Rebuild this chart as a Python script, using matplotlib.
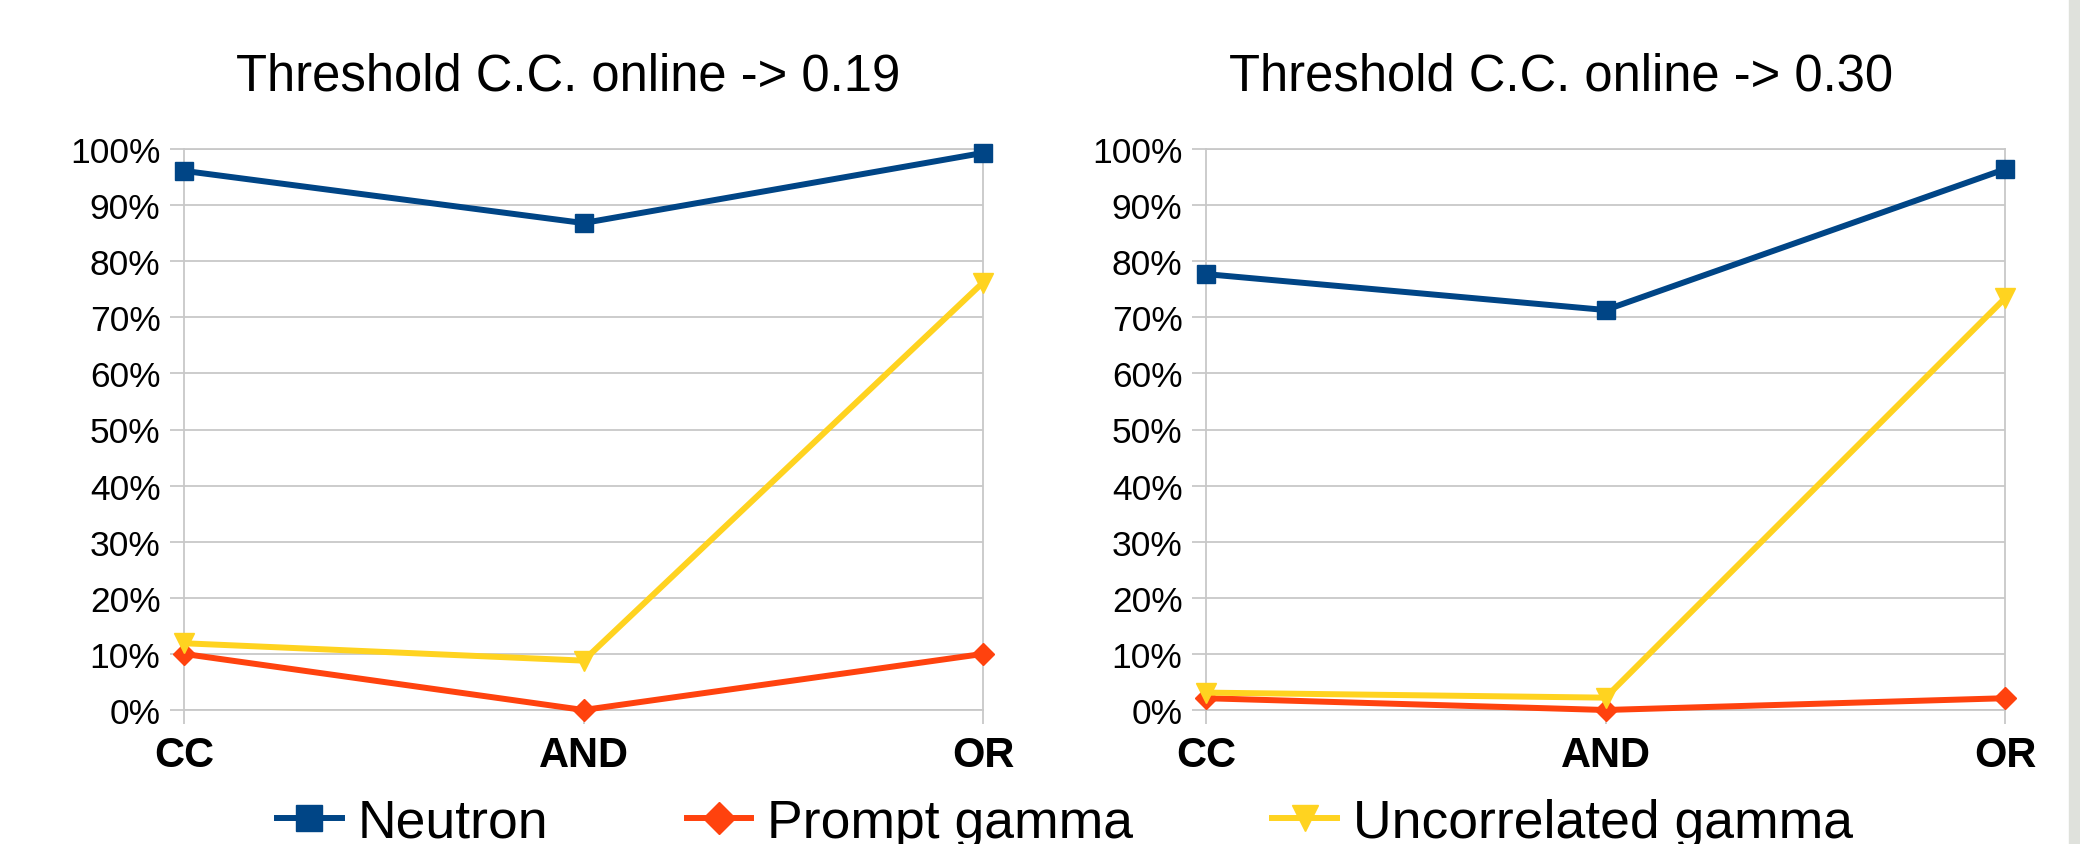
import numpy as np
import matplotlib.pyplot as plt
from matplotlib.patches import Rectangle
from matplotlib.ticker import PercentFormatter
from matplotlib.lines import Line2D

plt.rcParams['font.family'] = ['Liberation Sans', 'DejaVu Sans']

categories = ["CC", "AND", "OR"]
titles = ["Threshold C.C. online -> 0.19", "Threshold C.C. online -> 0.30"]
series_names = ["Neutron", "Prompt gamma", "Uncorrelated gamma"]

# values in percent, one list per panel
neutron = [[96.1, 86.8, 99.3], [77.7, 71.3, 96.4]]
prompt_gamma = [[10.0, 0.0, 10.0], [2.1, 0.0, 2.1]]
uncorrelated_gamma = [[11.9, 8.8, 76.2], [3.1, 2.2, 73.4]]

colors = ["#004586", "#ff420e", "#ffd320"]
markers = ["s", "D", "v"]
msizes = [13.5, 11, 14]
grid_col = "#c8c8c8"

fig = plt.figure(figsize=(20.8, 8.45), dpi=100)
axes = [fig.add_axes([184 / 2080, 1 - 711 / 845, 799 / 2080, 561 / 845]),
        fig.add_axes([1206 / 2080, 1 - 711 / 845, 799 / 2080, 561 / 845])]
title_x = [568 / 2080, 1561 / 2080]

x = np.arange(len(categories))
for i, ax in enumerate(axes):
    data = [neutron[i], prompt_gamma[i], uncorrelated_gamma[i]]
    # yellow first so the others sit on top like the original
    for k in [2, 1, 0]:
        ax.plot(x, data[k], color=colors[k], lw=4.3, marker=markers[k],
                ms=msizes[k], clip_on=False, zorder=3 + k)
    ax.set_xlim(0, 2)
    ax.set_ylim(0, 100)
    ax.set_yticks(np.arange(0, 101, 10))
    ax.yaxis.set_major_formatter(PercentFormatter(decimals=0))
    ax.set_xticks(x)
    ax.set_xticklabels(categories, fontsize=30, fontweight="bold")
    ax.tick_params(axis="y", labelsize=25.5, length=10, width=1.3,
                   color=grid_col, pad=7)
    ax.tick_params(axis="x", length=10, width=1.3, color=grid_col, pad=8)
    ax.grid(axis="y", color=grid_col, lw=1.3)
    ax.set_axisbelow(True)
    for side in ["left", "right", "bottom", "top"]:
        ax.spines[side].set_color(grid_col)
        ax.spines[side].set_linewidth(1.3)
    fig.text(title_x[i], 1 - 77 / 845, titles[i], fontsize=36.5,
             ha="center", va="center")

handles = [Line2D([], [], color=colors[k], lw=4.3, marker=markers[k],
                  ms=msizes[k] + 5) for k in range(3)]
fig.legend(handles, series_names, loc="center", ncol=3, frameon=False,
           bbox_to_anchor=(1065 / 2080, 1 - 824 / 845), fontsize=38.5,
           handlelength=1.2, handletextpad=0.3, columnspacing=2.6,
           borderpad=0)

# grey strip on the right edge of the slide
fig.patches.append(Rectangle((2069 / 2080, 0), 11 / 2080, 1,
                             transform=fig.transFigure, color="#dfe1dc"))

plt.savefig("out.png", dpi=100)
